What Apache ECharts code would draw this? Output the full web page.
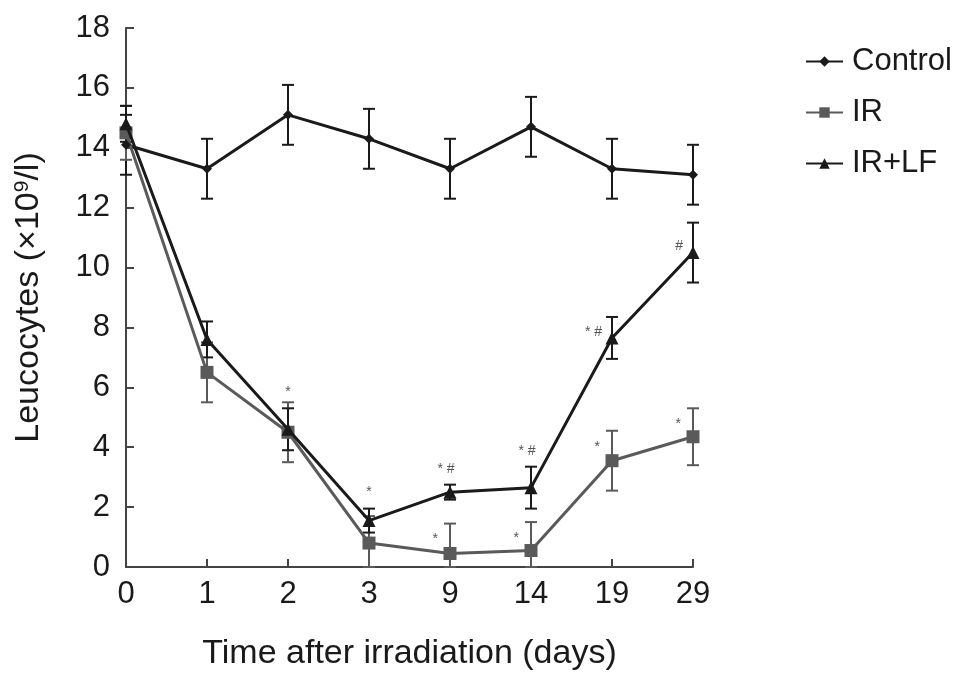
<!DOCTYPE html>
<html>
<head>
<meta charset="utf-8">
<script src="https://cdn.jsdelivr.net/npm/echarts@6/dist/echarts.min.js"></script>
<style>
html, body { margin: 0; padding: 0; background: #fff; }
#main { width: 969px; height: 682px; }
</style>
</head>
<body>
<div id="main"></div>
<script>
var days = ['0', '1', '2', '3', '9', '14', '19', '29'];
var yTicks = [0, 2, 4, 6, 8, 10, 12, 14, 16, 18];

var control = [14.1, 13.3, 15.1, 14.3, 13.3, 14.7, 13.3, 13.1];
var controlErr = [1.0, 1.0, 1.0, 1.0, 1.0, 1.0, 1.0, 1.0];
var ir = [14.5, 6.5, 4.5, 0.8, 0.45, 0.55, 3.55, 4.35];
var irErr = [0.9, 1.0, 1.0, 0.9, 1.0, 0.95, 1.0, 0.95];
var irlf = [14.8, 7.6, 4.6, 1.55, 2.5, 2.65, 7.65, 10.5];
var irlfErr = [0.6, 0.6, 0.7, 0.4, 0.25, 0.7, 0.7, 1.0];

var irSig = ['', '', '', '', '*', '*', '*', '*'];
var irlfSig = ['', '', '*', '*', '*#', '*#', '*#', '#'];

var myChart = echarts.init(document.getElementById('main'));

var FONT = '"Liberation Sans", Arial, Helvetica, sans-serif';

function errSeries(name, vals, errs, color) {
    var data = vals.map(function (v, i) { return [i, v - errs[i], v + errs[i]]; });
    return {
        name: name + ' err',
        type: 'custom',
        z: 1,
        silent: true,
        data: data,
        encode: { x: 0, y: [1, 2] },
        renderItem: function (params, api) {
            var lo = api.coord([api.value(0), Math.max(api.value(1), 0)]);
            var hi = api.coord([api.value(0), api.value(2)]);
            var w = 6;
            var st = { stroke: color, lineWidth: 2 };
            return {
                type: 'group',
                children: [
                    { type: 'line', shape: { x1: lo[0], y1: lo[1], x2: hi[0], y2: hi[1] }, style: st },
                    { type: 'line', shape: { x1: hi[0] - w, y1: hi[1], x2: hi[0] + w, y2: hi[1] }, style: st },
                    { type: 'line', shape: { x1: lo[0] - w, y1: lo[1], x2: lo[0] + w, y2: lo[1] }, style: st }
                ]
            };
        }
    };
}

function sigSeries(name, vals, errs, sig, mode) {
    var data = vals.map(function (v, i) { return [i, v, v + errs[i]]; });
    return {
        name: name + ' sig',
        type: 'custom',
        z: 5,
        silent: true,
        data: data,
        encode: { x: 0, y: [1, 2] },
        renderItem: function (params, api) {
            var i = params.dataIndex;
            var s = sig[i];
            if (!s) return null;
            var pt = api.coord([api.value(0), api.value(1)]);
            var top = api.coord([api.value(0), api.value(2)]);
            var x, y, align;
            if (mode === 'ir') {
                x = top[0] - 12; y = top[1] + 16; align = 'right';
            } else if (i >= 6) {
                x = pt[0] - 10; y = pt[1] - 6; align = 'right';
            } else {
                x = top[0] + (s.length > 1 ? -4 : 0); y = top[1] - 16; align = 'center';
            }
            return {
                type: 'text',
                style: {
                    x: x, y: y, text: s.split('').join(' '),
                    align: align, verticalAlign: 'middle',
                    fill: '#555', fontSize: 14, fontFamily: FONT
                }
            };
        }
    };
}

var option = {
    animation: false,
    backgroundColor: '#fff',
    grid: { left: 126, right: 276, top: 28, bottom: 115, containLabel: false },
    legend: {
        data: ['Control', 'IR', 'IR+LF'],
        orient: 'vertical',
        left: 800,
        top: 41,
        itemGap: 20,
        itemWidth: 37,
        itemHeight: 13,
        textStyle: { fontSize: 31, color: '#1a1a1a', fontFamily: FONT, padding: [0, 0, 0, 4] }
    },
    xAxis: {
        type: 'category',
        data: days,
        boundaryGap: false,
        name: 'Time after irradiation (days)',
        nameLocation: 'middle',
        nameGap: 70,
        nameTextStyle: { fontSize: 34, color: '#1a1a1a', fontFamily: FONT },
        axisLine: { lineStyle: { color: '#444', width: 2 } },
        axisTick: { inside: true, length: 8, alignWithLabel: true, lineStyle: { color: '#444', width: 2 } },
        axisLabel: { fontSize: 31, color: '#1a1a1a', fontFamily: FONT, margin: 12 },
        splitLine: { show: false }
    },
    yAxis: {
        type: 'value',
        min: 0,
        max: 18,
        interval: 2,
        name: 'Leucocytes (×10{sup|9}/l)',
        nameLocation: 'middle',
        nameGap: 80,
        nameRotate: 90,
        nameTextStyle: {
            fontSize: 34, color: '#1a1a1a', fontFamily: FONT,
            rich: { sup: { fontSize: 21, color: '#1a1a1a', fontFamily: FONT, verticalAlign: 'top', padding: [0, 0, 12, 0] } }
        },
        axisLine: { show: true, lineStyle: { color: '#444', width: 2 } },
        axisTick: { show: true, inside: true, length: 8, lineStyle: { color: '#444', width: 2 } },
        axisLabel: {
            fontSize: 31, color: '#1a1a1a', fontFamily: FONT, margin: 16,
            formatter: function (v) { return yTicks.indexOf(v) >= 0 ? String(v) : ''; }
        },
        splitLine: { show: false }
    },
    series: [
        errSeries('Control', control, controlErr, '#1a1a1a'),
        errSeries('IR', ir, irErr, '#5a5a5a'),
        errSeries('IR+LF', irlf, irlfErr, '#1a1a1a'),
        {
            name: 'Control', type: 'line', data: control, z: 3,
            symbol: 'diamond', symbolSize: 10,
            itemStyle: { color: '#1a1a1a' },
            lineStyle: { color: '#1a1a1a', width: 3 }
        },
        {
            name: 'IR', type: 'line', data: ir, z: 3,
            symbol: 'rect', symbolSize: 13,
            itemStyle: { color: '#5a5a5a' },
            lineStyle: { color: '#5a5a5a', width: 3 }
        },
        {
            name: 'IR+LF', type: 'line', data: irlf, z: 4,
            symbol: 'triangle', symbolSize: 13,
            itemStyle: { color: '#1a1a1a' },
            lineStyle: { color: '#1a1a1a', width: 3 }
        },
        sigSeries('IR', ir, irErr, irSig, 'ir'),
        sigSeries('IR+LF', irlf, irlfErr, irlfSig, 'lf')
    ]
};

myChart.setOption(option);
window.addEventListener('resize', function () {
    myChart.resize();
});
</script>
</body>
</html>
